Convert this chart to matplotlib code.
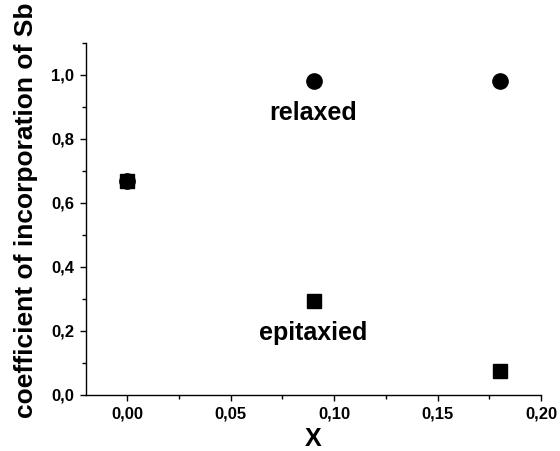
import matplotlib
matplotlib.use("Agg")
import matplotlib.pyplot as plt
from matplotlib.ticker import MultipleLocator, FuncFormatter

plt.rcParams['font.family'] = ['Liberation Sans', 'DejaVu Sans']
plt.rcParams['font.weight'] = 'bold'

x_vals = [0.0, 0.09, 0.18]
relaxed = [0.67, 0.98, 0.98]
epitaxied = [0.67, 0.294, 0.075]

fig = plt.figure(figsize=(5.6, 4.51), dpi=100)
ax = fig.add_axes([0.1536, 0.1242, 0.8125, 0.7805])

ax.plot(x_vals, relaxed, 'o', color='black', markersize=11)
ax.plot(x_vals, epitaxied, 's', color='black', markersize=10)

ax.text(0.09, 0.88, 'relaxed', ha='center', va='center', fontsize=18, fontweight='bold')
ax.text(0.09, 0.195, 'epitaxied', ha='center', va='center', fontsize=18, fontweight='bold')

ax.set_xlim(-0.02, 0.20)
ax.set_ylim(0, 1.1)

ax.spines['top'].set_visible(False)
ax.spines['right'].set_visible(False)
for s in ('left', 'bottom'):
    ax.spines[s].set_linewidth(1.0)

ax.xaxis.set_major_locator(MultipleLocator(0.05))
ax.xaxis.set_minor_locator(MultipleLocator(0.025))
ax.yaxis.set_major_locator(MultipleLocator(0.2))
ax.yaxis.set_minor_locator(MultipleLocator(0.1))

ax.xaxis.set_major_formatter(FuncFormatter(lambda v, p: f"{v:.2f}".replace('.', ',').replace('-0,00', '0,00')))
ax.yaxis.set_major_formatter(FuncFormatter(lambda v, p: f"{v:.1f}".replace('.', ',')))

ax.tick_params(which='major', direction='out', length=4.5, width=1.0, labelsize=12, pad=4)
ax.tick_params(which='minor', direction='out', length=3, width=1.0)
for lab in ax.get_xticklabels() + ax.get_yticklabels():
    lab.set_fontweight('bold')

ax.set_xlabel('X', fontsize=18, fontweight='bold', labelpad=4)
fig.text(26 / 560, 1 - 210 / 451, 'coefficient of incorporation of Sb', rotation=90,
         ha='center', va='center', fontsize=19, fontweight='bold')

fig.savefig('out.png', dpi=100)
